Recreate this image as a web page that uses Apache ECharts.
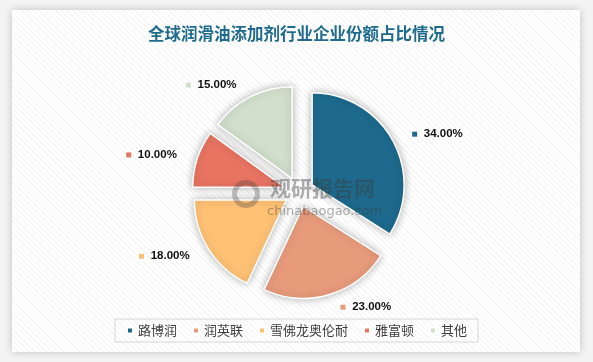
<!DOCTYPE html>
<html><head><meta charset="utf-8">
<script src="https://cdn.jsdelivr.net/npm/echarts@6/dist/echarts.min.js"></script>
<style>
html,body{margin:0;padding:0;background:#fff;}
#wrap{position:relative;width:593px;height:362px;background:#f4f4f4;overflow:hidden;}
#card{position:absolute;left:12px;top:10px;width:568px;height:342px;background-color:#fff;
background-image:repeating-linear-gradient(45deg, rgba(0,0,0,0.04) 0px, rgba(0,0,0,0.04) 1px, transparent 1px, transparent 4px);
box-shadow:0 0 8px rgba(0,0,0,0.22);}
#chart{position:absolute;left:0;top:0;width:593px;height:362px;}
</style></head>
<body>
<div id="wrap"><div id="card"></div><div id="chart"></div></div>
<script>
const titleText = '全球润滑油添加剂行业企业份额占比情况';
const categories = ['路博润', '润英联', '雪佛龙奥伦耐', '雅富顿', '其他'];
const shares = [34, 23, 18, 10, 15];
const colors = ['#1d6a8d', '#e89b7b', '#ffc275', '#e97462', '#d1dfcc'];

const chart = echarts.init(document.getElementById('chart'), null, {renderer: 'canvas'});
const data = categories.map((n, i) => ({
  name: n,
  value: shares[i],
  selected: true,
  itemStyle: {color: colors[i]},
  label: {rich: {
    m: {backgroundColor: colors[i], width: 5, height: 5},
    v: {fontWeight: 'bold', fontSize: 11.5, color: '#111', fontFamily: 'Liberation Sans'}
  }}
}));
chart.setOption({
  animation: false,
  title: {
    text: titleText, left: 'center', top: 20,
    textStyle: {fontSize: 16.5, fontWeight: 'bold', color: '#1f6b8e', fontFamily: 'Noto Sans CJK SC'}
  },
  legend: {
    data: categories, left: 'center', top: 319,
    icon: 'rect', itemWidth: 6, itemHeight: 6, itemGap: 15,
    borderColor: '#d6d6d6', borderWidth: 1, padding: [5, 11],
    selectedMode: false,
    textStyle: {fontSize: 13, color: '#404040', fontFamily: 'Noto Sans CJK SC'}
  },
  graphic: [
    {type: 'text', left: 270, top: 178, z: 100, silent: true,
     style: {text: '观研报告网', font: 'bold 21px "Noto Sans CJK SC"', fill: 'rgba(60,60,60,0.42)'}},
    {type: 'text', left: 267, top: 205, z: 100, silent: true,
     style: {text: 'chinabaogao.com', font: '13px "DejaVu Sans"', fill: 'rgba(60,60,60,0.42)'}},
    {type: 'ring', z: 100, silent: true, shape: {cx: 246, cy: 194, r: 14, r0: 9},
     style: {fill: 'rgba(60,60,60,0.3)'}}
  ],
  series: [{
    type: 'pie',
    center: [299, 192],
    radius: 92,
    startAngle: 90,
    clockwise: true,
    selectedMode: 'multiple',
    selectedOffset: 15,
    data: data,
    itemStyle: {borderColor: '#fff', borderWidth: 1.5, shadowBlur: 8, shadowColor: 'rgba(0,0,0,0.3)'},
    label: {
      show: true, position: 'outside',
      formatter: p => '{m|}  {v|' + p.value.toFixed(2) + '%}'
    },
    labelLine: {show: false, length: 13, length2: 3},
    emphasis: {disabled: true}
  }]
});
</script>
</body></html>
